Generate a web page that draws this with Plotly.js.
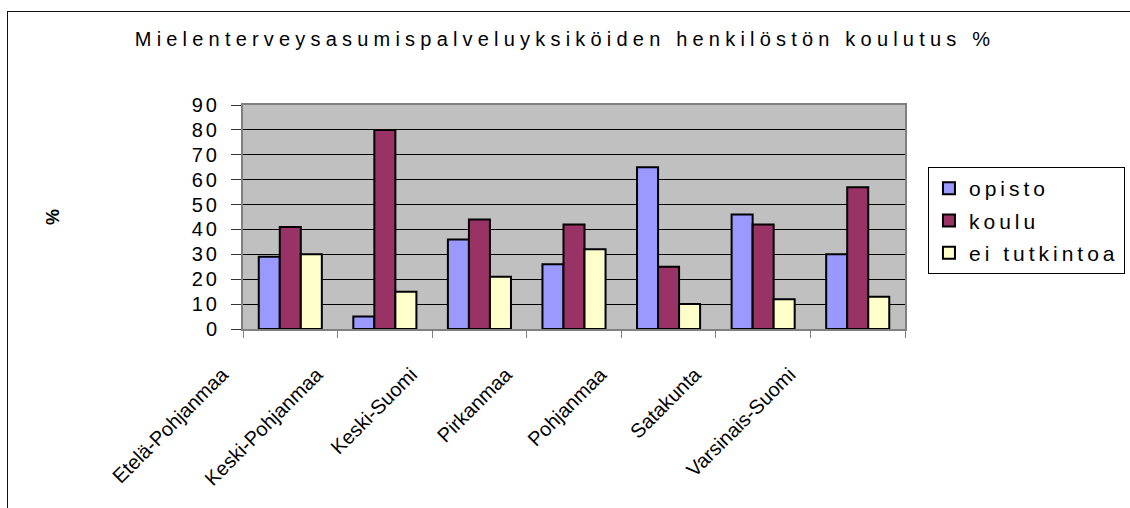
<!DOCTYPE html>
<html>
<head>
<meta charset="utf-8">
<script src="https://cdn.plot.ly/plotly-3.0.1.min.js"></script>
<style>
  html, body { margin: 0; padding: 0; background: #fff; overflow: hidden; }
  #wrap { position: relative; width: 1130px; height: 508px; }
  #chart { position: absolute; left: 0; top: 0; width: 1130px; height: 508px; }
  #frame { position: absolute; left: 7px; top: 11px; width: 2000px; height: 2000px;
           border-left: 1.5px solid #111; border-top: 1.5px solid #111; pointer-events: none; }
  .gtitle { letter-spacing: 5.2px; }
  #chart g.ytick text { letter-spacing: 3px; }
  .legendtext { letter-spacing: 4px; }
</style>
</head>
<body>
<div id="wrap">
  <div id="chart"></div>
  <div id="frame"></div>
</div>
<script>
const regions = ["Etelä-Pohjanmaa", "Keski-Pohjanmaa", "Keski-Suomi", "Pirkanmaa", "Pohjanmaa", "Satakunta", "Varsinais-Suomi"];
const opisto = [29, 5, 36, 26, 65, 46, 30];
const koulu = [41, 80, 44, 42, 25, 42, 57];
const eiTutkintoa = [30, 15, 21, 32, 10, 12, 13];
const seriesNames = ["opisto", "koulu", "ei tutkintoa"];
const yTicks = [0, 10, 20, 30, 40, 50, 60, 70, 80, 90];

const colors = ["#9999ff", "#993366", "#ffffcc"];
const values = [opisto, koulu, eiTutkintoa];

const traces = values.map((v, i) => ({
  type: "bar",
  name: seriesNames[i],
  x: regions,
  y: v,
  legendgroup: "g" + i,
  marker: { color: colors[i], line: { color: "#000", width: 2 } },
  hoverinfo: "x+y+name"
}));

const font = "Liberation Sans, Arial, sans-serif";

const layout = {
  width: 1130,
  height: 508,
  margin: { l: 243, r: 225, t: 105, b: 179 },
  paper_bgcolor: "rgba(0,0,0,0)",
  plot_bgcolor: "#c0c0c0",
  font: { family: font, color: "#000", size: 20 },
  title: {
    text: "Mielenterveysasumispalveluyksiköiden henkilöstön koulutus %",
    font: { family: font, size: 20, color: "#000" },
    x: 0.5, xref: "container", xanchor: "center",
    y: 0.923, yref: "container", yanchor: "middle"
  },
  barmode: "group",
  bargap: 0.333,
  bargroupgap: 0,
  showlegend: true,
  legend: {
    xref: "container", yref: "container",
    x: 0.8212, xanchor: "left",
    y: 0.6713, yanchor: "top",
    bgcolor: "#fff",
    bordercolor: "#000",
    borderwidth: 1,
    font: { family: font, size: 21, color: "#000" },
    traceorder: "grouped",
    tracegroupgap: 2
  },
  xaxis: {
    type: "category",
    tickson: "boundaries",
    ticks: "outside",
    ticklen: 7,
    tickcolor: "#808080",
    tickwidth: 1,
    tickangle: -45,
    tickfont: { family: font, size: 20, color: "#000" },
    ticklabelshift: -68,
    ticklabelstandoff: 24,
    showgrid: false,
    showline: true,
    linecolor: "#808080",
    linewidth: 2,
    mirror: true,
    fixedrange: true
  },
  yaxis: {
    range: [0, 90],
    tickvals: yTicks,
    ticktext: yTicks.map(String),
    ticks: "outside",
    ticklen: 10,
    tickcolor: "#333",
    tickwidth: 1,
    tickfont: { family: font, size: 20, color: "#000" },
    ticklabelstandoff: 7,
    showgrid: true,
    gridcolor: "#000",
    gridwidth: 1,
    showline: true,
    linecolor: "#808080",
    linewidth: 2,
    mirror: true,
    zeroline: false,
    fixedrange: true,
    title: {
      text: "<b>%</b>",
      font: { family: font, size: 18, color: "#000" },
      standoff: 133
    }
  }
};

Plotly.newPlot("chart", traces, layout, { displayModeBar: false, staticPlot: true });
</script>
</body>
</html>
